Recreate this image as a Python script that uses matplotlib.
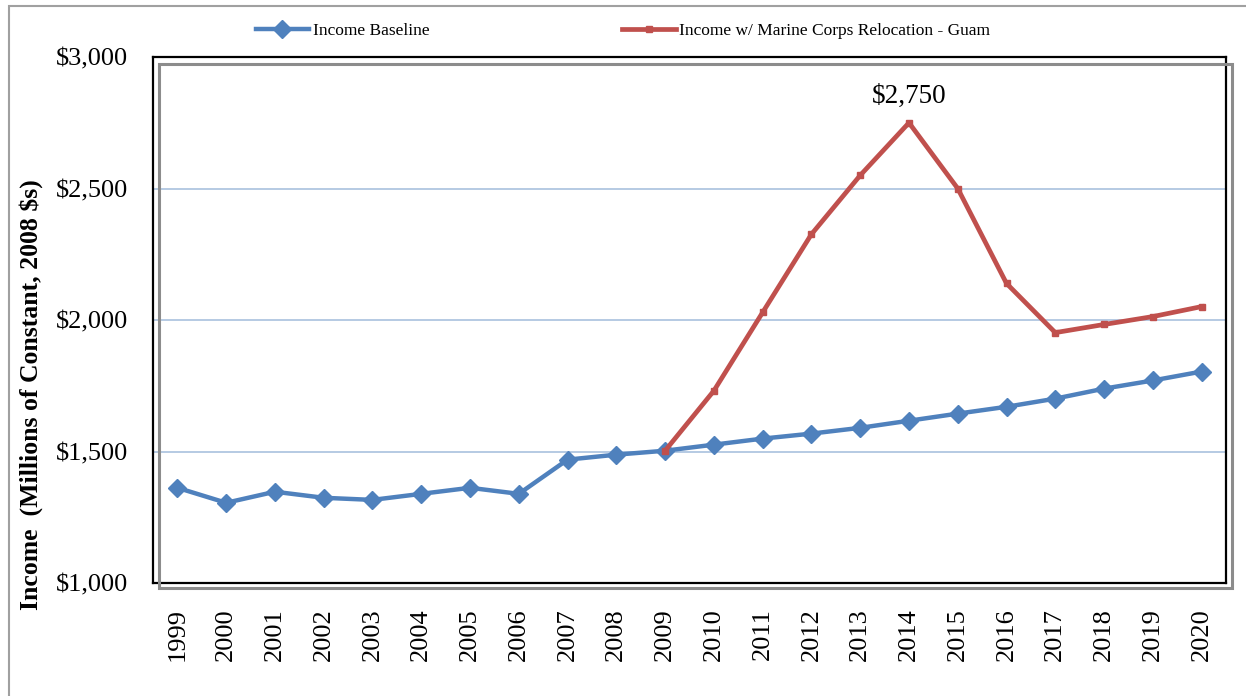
import matplotlib
matplotlib.use("Agg")
import matplotlib.pyplot as plt
from matplotlib.patches import Rectangle
from matplotlib.ticker import FuncFormatter

years = [str(y) for y in range(1999, 2021)]
baseline = [1362, 1305, 1347, 1324, 1316, 1339, 1362, 1339, 1469, 1488, 1503,
            1526, 1549, 1568, 1590, 1617, 1644, 1670, 1701, 1739, 1770, 1804]
reloc_years = [str(y) for y in range(2009, 2021)]
relocation = [1503, 1731, 2029, 2326, 2550, 2750, 2500, 2139, 1952, 1983, 2013, 2051]
peak_label = "$2,750"

plt.rcParams['font.family'] = ['Liberation Serif', 'DejaVu Serif']

W, H = 1246, 696
fig = plt.figure(figsize=(W / 100, H / 100), dpi=100)

L, R, T, B = 153, 1226, 57, 583
ax = fig.add_axes([L / W, 1 - B / H, (R - L) / W, (B - T) / H])
ax.set_facecolor('none')

# Outer figure border
fig.patches.append(Rectangle((9 / W, -0.1), 1.2, 1 - 6 / H + 0.1,
                             transform=fig.transFigure, fill=False,
                             edgecolor='#a0a0a0', linewidth=1.5, zorder=0))
# Gray shadow frame
fig.patches.append(Rectangle((159 / W, 1 - 588 / H), (1232 - 159) / W, (588 - 64) / H,
                             transform=fig.transFigure, fill=False,
                             edgecolor='#8c8c8c', linewidth=2.2, zorder=0))

xb = list(range(len(years)))
idx = {y: i for i, y in enumerate(years)}
xr = [idx[y] for y in reloc_years]

ax.plot(xb, baseline, color='#4F81BD', linewidth=3.2, marker='D', markersize=9,
        label='Income Baseline', zorder=3)
ax.plot(xr, relocation, color='#C0504D', linewidth=3.4, marker='s', markersize=4.5,
        label='Income w/ Marine Corps Relocation - Guam', zorder=4)

peak_i = relocation.index(max(relocation))
ax.annotate(peak_label, (xr[peak_i], relocation[peak_i]), xytext=(0, 10),
            textcoords='offset points', ha='center', va='bottom', fontsize=19.5)

ax.set_xlim(-0.5, len(years) - 0.5)
ax.set_ylim(1000, 3000)
ax.set_yticks([1000, 1500, 2000, 2500, 3000])
ax.yaxis.set_major_formatter(FuncFormatter(lambda v, p: f"${v:,.0f}"))
ax.set_xticks(xb)
ax.set_xticklabels(years, rotation=90)
ax.tick_params(axis='both', length=0, labelsize=19)
ax.tick_params(axis='y', pad=18)
ax.tick_params(axis='x', pad=18)
ax.grid(axis='y', color='#a9c1de', linewidth=1.2)
ax.set_axisbelow(True)
for s in ax.spines.values():
    s.set_color('black')
    s.set_linewidth(1.6)

fig.text(31 / W, 1 - 395 / H, 'Income  (Millions of Constant, 2008 $s)', rotation=90,
         ha='center', va='center', fontsize=18.5, fontweight='bold')

leg = fig.legend(loc='center', bbox_to_anchor=(623 / W, 1 - 31 / H), ncol=2,
                 frameon=False, fontsize=12.5, handlelength=3.1, handletextpad=0.2,
                 columnspacing=11.1)

fig.savefig('out.png', dpi=100)
